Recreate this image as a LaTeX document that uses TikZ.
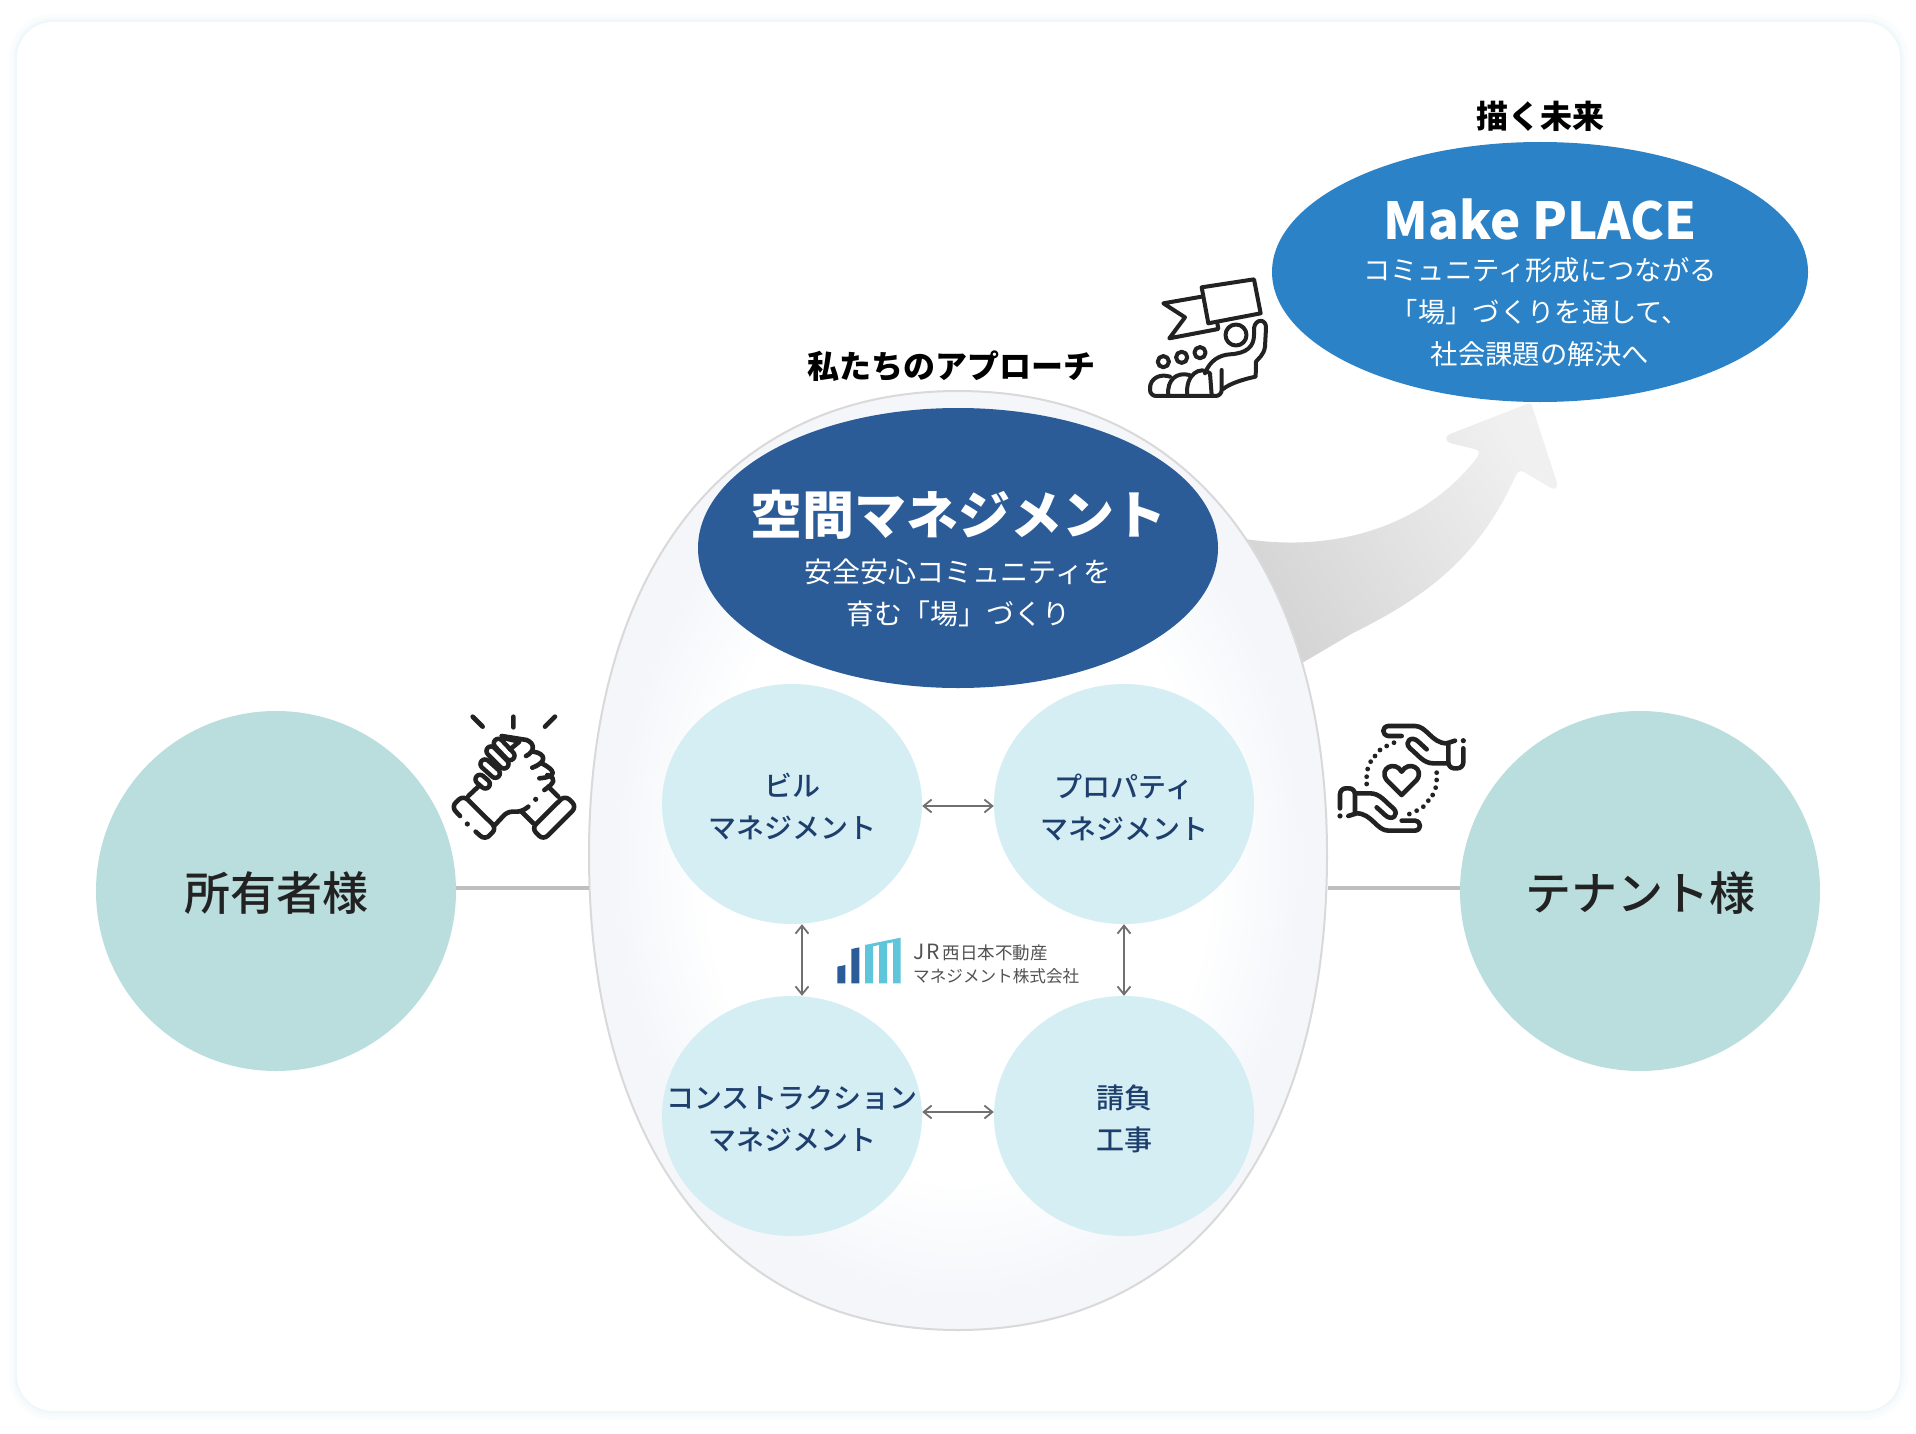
\documentclass[tikz,border=0pt]{standalone}
\usepackage{fontspec}
\setmainfont{Noto Sans CJK JP}
\newfontfamily\medf{Noto Sans CJK JP Medium}
\usetikzlibrary{shapes.geometric,arrows.meta}
\definecolor{teal1}{HTML}{B9DEDD}
\definecolor{pale}{HTML}{D5EEF3}
\definecolor{navy}{HTML}{2B5C98}
\definecolor{sky}{HTML}{2B82C7}
\definecolor{ink}{HTML}{1E3F6E}
\definecolor{dark}{HTML}{222222}
\definecolor{logot}{HTML}{5FC5DA}
\definecolor{g1}{HTML}{FAFCFE}
\definecolor{g2}{HTML}{F5FAFC}
\definecolor{g3}{HTML}{EFF7FA}
\pgfdeclareradialshading{eggshade}{\pgfpoint{0bp}{0bp}}{rgb(0bp)=(1,1,1);rgb(17bp)=(1,1,1);rgb(23.5bp)=(.955,.965,.98);rgb(50bp)=(.955,.965,.98)}
\newcommand{\fs}[2]{\fontsize{#1}{#2}\selectfont}
\newcommand{\fcap}[2]{\draw[line width=13.6pt,line cap=round,dark] #1--#2;\draw[line width=4.4pt,line cap=round,white] #1--#2;}
\newcommand{\lbl}[2]{\makebox[40pt]{#1}\\\makebox[40pt]{#2}}
\tikzset{
  bigc/.style={circle,fill=teal1,minimum size=360pt,inner sep=0},
  bigt/.style={inner sep=0,font=\medf\fs{46}{54},text=dark},
  smallc/.style={ellipse,fill=pale,minimum width=260pt,minimum height=240pt,inner sep=0,font=\medf\fs{28}{42},text=ink,align=center},
  wtxt/.style={text=white,inner sep=0,font=\fs{27.3}{32}},
  head/.style={text=black,inner sep=0,font=\fs{32}{38}\bfseries},
  link/.style={draw=black!25,line width=3.5pt},
  dbl/.style={draw=black!56,line width=1.8pt,{Straight Barb[length=8pt,width=13pt]}-{Straight Barb[length=8pt,width=13pt]}},
  icon/.style={draw=dark,line width=4.6pt,line cap=round,line join=round},
  thin icon/.style={draw=dark,line width=4pt,line cap=round,line join=round},
}
\begin{document}
\begin{tikzpicture}[x=1pt,y=-1pt]
\useasboundingbox (0,0) rectangle (1916,1434);
\fill[white] (0,0) rectangle (1916,1434);
% card with faint glow
\fill[g1,rounded corners=44pt] (9,14) rectangle (1908,1420);
\fill[g2,rounded corners=40pt] (13,18) rectangle (1904,1416);
\fill[g3,rounded corners=38pt] (15,20) rectangle (1902,1413);
\fill[white,rounded corners=36pt] (17,22) rectangle (1900,1411);

% big arrow
\shade[top color=black!18,bottom color=black!6,shading angle=120]
  (1200,520) -- (1245,539) .. controls (1330,552) and (1420,530) .. (1476,459)
  .. controls (1481,452) and (1479,450) .. (1474,449) -- (1450,443)
  .. controls (1445,441) and (1445,436) .. (1450,434) -- (1527,404)
  .. controls (1530,403) and (1531,403) .. (1532,406) -- (1557,483)
  .. controls (1558,488) and (1554,490) .. (1551,488) -- (1524,472)
  .. controls (1520,470) and (1518,472) .. (1516,475)
  .. controls (1480,555) and (1430,595) .. (1353,633)
  -- (1302,663) -- (1200,680) -- cycle;

% egg
\path[shade,shading=eggshade,draw=black!15,line width=2pt]
  (958,391) .. controls (1187,391) and (1327,567) .. (1327,855)
  .. controls (1327,1150) and (1187,1330) .. (958,1330)
  .. controls (729,1330) and (589,1150) .. (589,855)
  .. controls (589,567) and (729,391) .. (958,391) -- cycle;
\coordinate (eggL) at (589,888);
\coordinate (eggR) at (1328,888);

% big circles
\node[bigc] (owner) at (276,891) {};
\node[bigc] (tenant) at (1640,891) {};
\node[bigt] (ownerT) at (276,893) {所有者様};
\node[bigt] (tenantT) at (1640,893) {テナント様};
\draw[link] (eggL -| owner.east) -- (eggL);
\draw[link] (eggR) -- (eggR -| tenant.west);

% navy ellipse
\node[ellipse,fill=navy,minimum width=520pt,minimum height=280pt,inner sep=0] (space) at (958,548) {};
\node[inner sep=0,text=white,font=\fs{52}{60}\bfseries] (spaceT) at (958,515) {空間マネジメント};
\node[wtxt,font=\fs{28}{32}] (spaceA) at (958,572) {安全安心コミュニティを};
\node[wtxt,font=\fs{28}{32}] (spaceB) at (958,614) {育む「場」づくり};

% small circles
\node[smallc] (bm) at (792,804) {};
\node[smallc] (pm) at (1124,804) {};
\node[smallc] (cm) at (792,1116) {};
\node[smallc] (ko) at (1124,1116) {};
\node[smallc,minimum width=0pt,minimum height=0pt,fill=none] (bmT) at (792,807) {\lbl{ビル}{マネジメント}};
\node[smallc,minimum width=0pt,minimum height=0pt,fill=none] (pmT) at (1124,807) {\lbl{プロパティ}{マネジメント}};
\node[smallc,minimum width=0pt,minimum height=0pt,fill=none] (cmT) at (792,1119) {\lbl{コンストラクション}{マネジメント}};
\node[smallc,minimum width=0pt,minimum height=0pt,fill=none] (koT) at (1124,1119) {\lbl{請負}{工事}};
\draw[dbl] ([yshift=-2pt]bm.east) -- ([yshift=-2pt]pm.west);
\draw[dbl] ([yshift=4pt]cm.east) -- ([yshift=4pt]ko.west);
\draw[dbl] ([xshift=10pt]bm.south) -- ([xshift=10pt]cm.north);
\draw[dbl] (pm.south) -- (ko.north);

% make place
\node[ellipse,fill=sky,minimum width=536pt,minimum height=260pt,inner sep=0] (place) at (1540,272) {};
\node[inner sep=0,text=white,font=\fs{51}{64}\bfseries] (placeT) at (1540,219) {Make PLACE};
\node[wtxt] (placeA) at (1540,270) {コミュニティ形成につながる};
\node[wtxt] (placeB) at (1540,312) {「場」づくりを通して、};
\node[wtxt] (placeC) at (1540,354) {社会課題の解決へ};
\node[head] (future) at (1540,116) {描く未来};
\node[head] (approach) at (951,366) {私たちのアプローチ};

% logo
\begin{scope}[shift={(780,900)},x=0.3333pt,y=-0.3333pt]
\fill[navy] (172,250) -- (172,200) -- (196,195) -- (196,250) -- cycle;
\fill[navy] (214,250) -- (214,147) -- (238,142) -- (238,250) -- cycle;
\fill[logot] (255,250) -- (255,135) -- (362,113) -- (362,250) -- (339,250) -- (339,127) -- (321,130) -- (321,250) -- (297,250) -- (297,135) -- (279,139) -- (279,250) -- cycle;
\end{scope}
\node[anchor=west,inner sep=0,text=black!68,font=\fs{17.5}{20}] (logoA) at (913,953) {{\fs{21}{20}J\kern2pt R\kern3pt}西日本不動産};
\node[anchor=west,inner sep=0,text=black!68,font=\fs{16.6}{20}] (logoB) at (913,976) {マネジメント株式会社};

% handshake icon
\begin{scope}[shift={(430,690)},x=0.3333pt,y=-0.3333pt]
\draw[icon] (128,80) -- (158,110) (250,80) -- (250,112) (375,80) -- (345,110);
\draw[icon,rounded corners=6pt] (90,378) -- (64,350) -- (100,316) -- (200,415) -- (165,450) -- (137,425);
\draw[icon,rounded corners=6pt] (405,316) -- (440,350) -- (340,450) -- (305,415) -- cycle;
\draw[icon] (115,318) -- (150,285);
\draw[icon,rounded corners=5pt] (195,405) -- (232,365) -- (275,365) -- (295,350);
\draw[icon] (275,365) -- (310,400) (355,290) -- (385,320);
\fill[dark] (112,402) circle (2.6pt) (317,328) circle (2.6pt);
\draw[icon] (215,138) -- (290,150) .. controls (315,160) and (315,185) .. (288,198);
\draw[icon] (310,185) .. controls (345,190) and (355,215) .. (307,233);
\draw[icon] (335,220) .. controls (375,240) and (385,260) .. (328,265);
\draw[icon] (352,255) .. controls (382,265) and (372,280) .. (343,300);
\fcap{(150,268)}{(166,282)}
\fcap{(165,222)}{(196,250)}
\fcap{(183,183)}{(222,222)}
\fcap{(205,160)}{(240,197)}
\draw[icon] (225,145) -- (268,155) -- (240,178);
\end{scope}

% care icon
\begin{scope}[shift={(1320,700)},x=0.3333pt,y=-0.3333pt]
\draw[icon] (245,285) -- (200,240) .. controls (175,205) and (225,180) .. (245,215) .. controls (265,180) and (315,205) .. (290,240) -- cycle;
\foreach \r in {0,180}{
\begin{scope}[rotate around={\r:(245,235)}]
\draw[icon] (245,108) -- (205,108) .. controls (185,105) and (185,80) .. (205,78) -- (285,78) .. controls (320,78) and (335,130) .. (380,130) .. controls (390,130) and (395,122) .. (405,122);
\draw[icon,rounded corners=6pt] (430,145) -- (430,205) -- (385,205) -- (385,130);
\draw[icon] (385,190) -- (340,190) .. controls (310,190) and (295,165) .. (270,145) .. controls (250,125) and (275,105) .. (295,125) -- (320,148);
\fill[dark] (430,122) circle (2.6pt);
\foreach \x/\y in {222/128,200/138,180/150,165/168,152/185,143/207,140/230,140/252}{\fill[dark] (\x,\y) circle (2.4pt);}
\end{scope}}
\end{scope}

% flag icon
\begin{scope}[shift={(1130,260)},x=0.3333pt,y=-0.3333pt]
\draw[thin icon] (215,82) -- (372,58) -- (392,160) -- (235,190) -- cycle;
\draw[thin icon] (215,110) -- (100,130) -- (165,172) -- (118,235) -- (265,207) -- (262,190);
\draw[thin icon] (318,225) circle (10.5pt);
\draw[thin icon] (100,305) circle (5.6pt) (155,292) circle (5.6pt) (210,278) circle (5.6pt);
\draw[thin icon] (225,340) .. controls (240,300) and (270,285) .. (300,283) .. controls (350,280) and (372,260) .. (372,225) -- (372,205) .. controls (375,175) and (410,175) .. (408,205) -- (405,260) .. controls (402,285) and (385,295) .. (378,305) -- (377,350) .. controls (340,358) and (300,370) .. (278,388);
\draw[thin icon,rounded corners=6pt] (275,330) -- (275,408) -- (60,408) -- (60,380);
\draw[thin icon] (60,385) .. controls (60,355) and (90,340) .. (120,350);
\draw[thin icon] (115,405) .. controls (110,360) and (140,335) .. (178,345);
\draw[thin icon] (172,405) .. controls (165,345) and (210,315) .. (240,340) -- (245,405);
\end{scope}
\end{tikzpicture}
\end{document}
